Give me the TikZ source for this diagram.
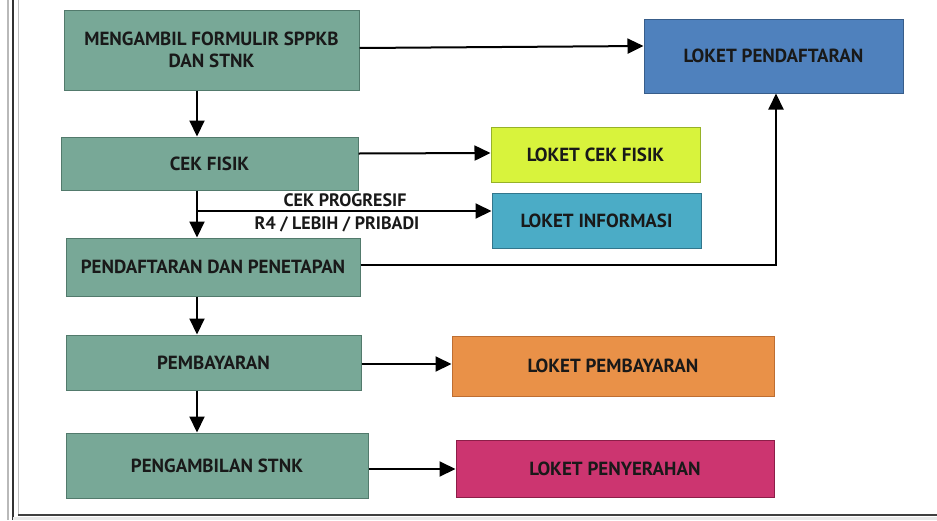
\documentclass[tikz,border=0pt]{standalone}
\usepackage{fontspec}
\setmainfont{PT Sans}
\usetikzlibrary{arrows.meta,calc}
\definecolor{gfill}{RGB}{120,168,151}
\definecolor{gdraw}{RGB}{82,122,108}
\definecolor{bfill}{RGB}{79,129,189}
\definecolor{bdraw}{RGB}{56,93,138}
\definecolor{lfill}{RGB}{216,243,60}
\definecolor{ldraw}{RGB}{150,178,40}
\definecolor{cfill}{RGB}{75,172,198}
\definecolor{cdraw}{RGB}{50,118,140}
\definecolor{ofill}{RGB}{233,145,72}
\definecolor{odraw}{RGB}{190,110,50}
\definecolor{mfill}{RGB}{204,53,112}
\definecolor{mdraw}{RGB}{140,30,72}
\definecolor{txt}{RGB}{25,25,25}
\tikzset{
  boxbase/.style={draw, line width=1pt, inner sep=0pt, align=center, text=txt,
    font=\bfseries\fontsize{19}{22}\selectfont},
  gbox/.style={boxbase, fill=gfill, draw=gdraw},
  arr/.style={draw=black, line width=2pt, -{Triangle[length=16pt,width=15pt]}},
  lbl/.style={text=txt, inner sep=0pt, font=\fontsize{18}{20}\selectfont\bfseries}
}
\begin{document}
\begin{tikzpicture}[x=1pt,y=-1pt]
\useasboundingbox (0,0) rectangle (937,520);
\fill[white] (0,0) rectangle (937,520);
% frame
\draw[gray!55, line width=1.5pt] (8,0) -- (8,520);
\draw[black!80, line width=2pt] (13,0) -- (13,520);
\draw[gray!50, line width=1pt] (18,0) -- (18,514);
\fill[gray!18] (13,517) rectangle (937,520);
\draw[black!75, line width=1.5pt] (18,515) -- (937,515);

% left column
\node[gbox, minimum width=295, minimum height=80] (a) at (211.5,50) {MENGAMBIL FORMULIR SPPKB\\DAN STNK};
\node[gbox, minimum width=297, minimum height=53] (cf) at (209.5,163.5) {CEK FISIK};
\node[gbox, minimum width=294, minimum height=58] (pp) at (213,267) {PENDAFTARAN DAN PENETAPAN};
\node[gbox, minimum width=295, minimum height=55] (pb) at (213.5,362.5) {PEMBAYARAN};
\node[gbox, minimum width=302, minimum height=65] (ps) at (217,465.5) {PENGAMBILAN STNK};

% right column
\node[boxbase, fill=bfill, draw=bdraw, minimum width=259, minimum height=74] (lp) at (773.5,56) {LOKET PENDAFTARAN};
\node[boxbase, fill=lfill, draw=ldraw, minimum width=209, minimum height=55] (lcf) at (595.5,154.5) {LOKET CEK FISIK};
\node[boxbase, fill=cfill, draw=cdraw, minimum width=209, minimum height=55] (li) at (596.5,220.5) {LOKET INFORMASI};
\node[boxbase, fill=ofill, draw=odraw, minimum width=322, minimum height=60] (lpb) at (613,366) {LOKET PEMBAYARAN};
\node[boxbase, fill=mfill, draw=mdraw, minimum width=318, minimum height=57] (lps) at (615,468.5) {LOKET PENYERAHAN};

% helper coordinates
\coordinate (v) at (197,0);
\coordinate (br) at (197,211);
\coordinate (up) at (776,265);

% vertical flow
\draw[arr] (a.south -| v) -- (cf.north -| v);
\draw[arr] (cf.south -| v) -- (pp.north -| v);
\draw[arr] (pp.south -| v) -- (pb.north -| v);
\draw[arr] (pb.south -| v) -- (ps.north -| v);

% horizontal arrows
\draw[arr] ([yshift=2pt]a.east) -- ([yshift=10pt]lp.west);
\draw[arr] ([yshift=10pt]cf.east) -- (lcf.west |- 0,153);
\draw[arr] (br) -- (li.west |- br);
\draw[arr] (pp.east |- up) -- (up) -- (lp.south -| up);
\draw[arr] (pb.east |- 0,364) -- (lpb.west |- 0,364);
\draw[arr] (ps.east |- 0,469) -- (lps.west |- 0,469);

% labels on branch
\node[lbl] (l1) at (345,200) {CEK PROGRESIF};
\node[lbl] (l2) at (337,224) {R4 / LEBIH / PRIBADI};
\end{tikzpicture}
\end{document}
